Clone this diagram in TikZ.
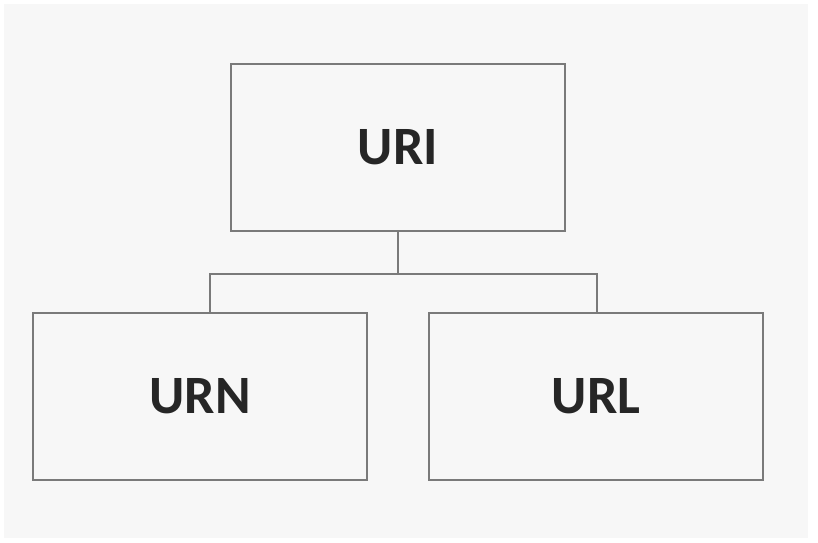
\documentclass[tikz,border=0pt]{standalone}
\usepackage{fontspec}
\setmainfont{Carlito}
\definecolor{bg}{HTML}{F7F7F7}
\definecolor{edge}{HTML}{7A7A7A}
\definecolor{txt}{HTML}{262626}
\begin{document}
\begin{tikzpicture}[x=1pt,y=1pt,
  box/.style={draw=edge,line width=2.4pt,fill=bg,minimum width=334pt,minimum height=167pt,inner sep=0pt,
    font=\fontsize{54}{60}\selectfont\bfseries,text=txt},
  link/.style={draw=edge,line width=2.4pt}]
\fill[white] (0,0) rectangle (818,542);
\fill[bg] (4,4) rectangle (808,538);
\useasboundingbox (0,0) rectangle (818,542);
\node[box] (uri) at (398,394.5) {URI};
\node[box] (urn) at (200,145.5) {URN};
\node[box] (url) at (596,145.5) {URL};
\coordinate (j) at (398,268);
\coordinate (jl) at (210,268);
\coordinate (jr) at (597,268);
\draw[link] (uri.south) -- (j);
\draw[link] (jl |- urn.north) -- (jl) -- (jr) -- (jr |- url.north);
\end{tikzpicture}
\end{document}
